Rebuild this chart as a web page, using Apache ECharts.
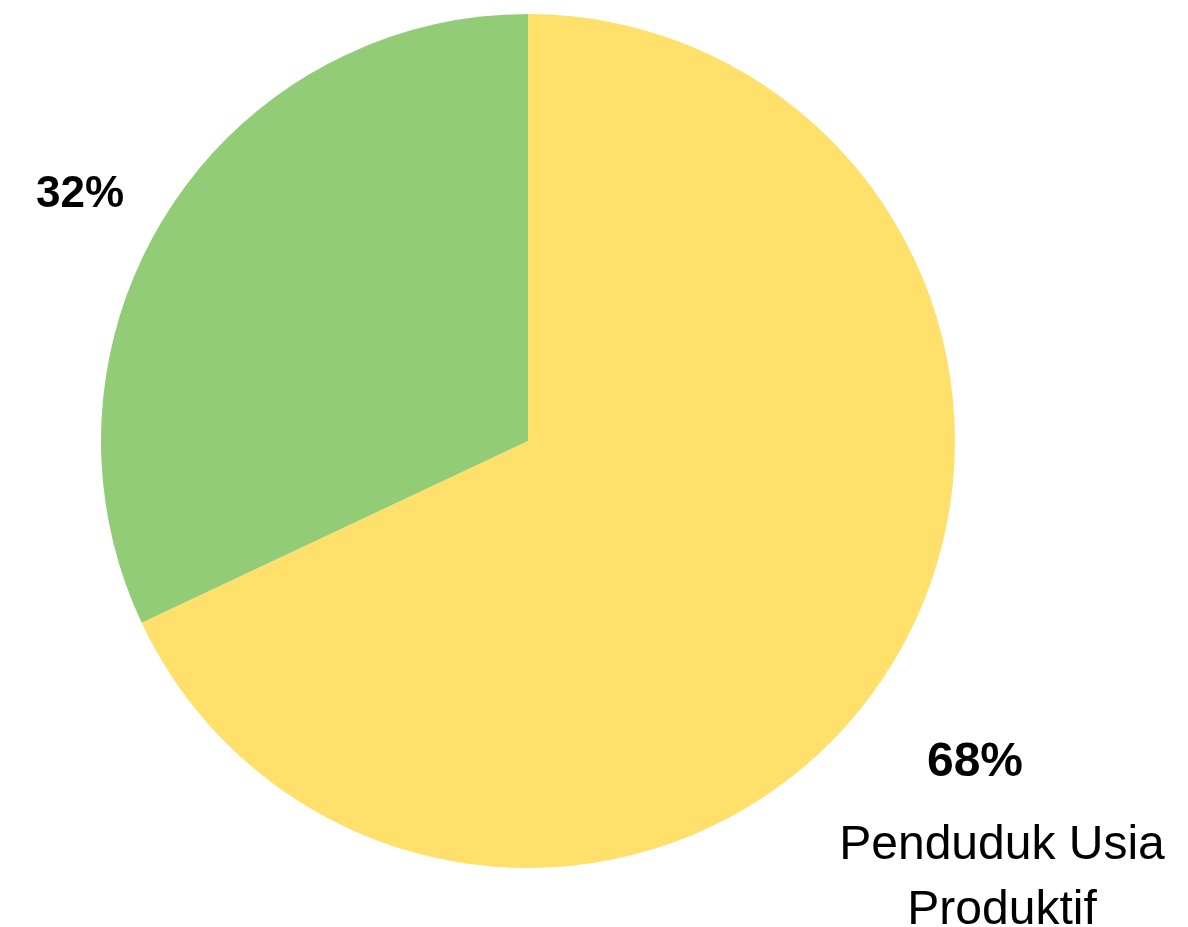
<!DOCTYPE html>
<html>
<head>
<meta charset="utf-8">
<script src="https://cdn.jsdelivr.net/npm/echarts@6/dist/echarts.min.js"></script>
<style>
html,body{margin:0;padding:0;background:#fff;}
#c{width:1188px;height:927px;}
</style>
</head>
<body>
<div id="c"></div>
<script>
// Data
var categories = ['Penduduk Usia Produktif', 'Penduduk Usia Non Produktif'];
var values = [68, 32];
var nameLines = [['Penduduk Usia', 'Produktif'], []];
var colors = ['#FFE06B', '#93CC77'];

var chart = echarts.init(document.getElementById('c'), null, {renderer: 'canvas'});
var data = categories.map(function (c, i) {
  return { name: c, value: values[i], itemStyle: { color: colors[i] } };
});
var FF = 'Liberation Sans, Arial, sans-serif';
var option = {
  backgroundColor: '#ffffff',
  animation: false,
  series: [{
    type: 'pie',
    center: [528, 441],
    radius: [0, 427],
    startAngle: 90,
    clockwise: true,
    data: data,
    itemStyle: { borderColor: '#ffffff', borderWidth: 0 },
    labelLine: { show: false },
    label: {
      show: true,
      position: 'outside',
      overflow: 'none',
      edgeDistance: 0,
      fontFamily: FF,
      color: '#000',
      formatter: function (p) {
        var s = '{p' + p.dataIndex + '|' + Math.round(p.percent) + '%}';
        var lines = nameLines[p.dataIndex];
        for (var k = 0; k < lines.length; k++) s += '\n{n|' + lines[k] + '}';
        return s;
      },
      rich: {
        p0: { fontSize: 48, fontWeight: 'bold', color: '#000', lineHeight: 100, padding: [0, 54, 0, 0], fontFamily: FF },
        p1: { fontSize: 44, fontWeight: 'bold', color: '#000', lineHeight: 56, fontFamily: FF },
        n: { fontSize: 48, color: '#000', lineHeight: 65, fontFamily: FF }
      }
    },
    labelLayout: function (params) {
      if (params.dataIndex === 0) {
        return { x: 1002, y: 713, align: 'center', verticalAlign: 'top', width: 400 };
      }
      return { x: 80, y: 195, align: 'center', verticalAlign: 'middle' };
    },
    emphasis: { disabled: true }
  }]
};
chart.setOption(option);
</script>
</body>
</html>
